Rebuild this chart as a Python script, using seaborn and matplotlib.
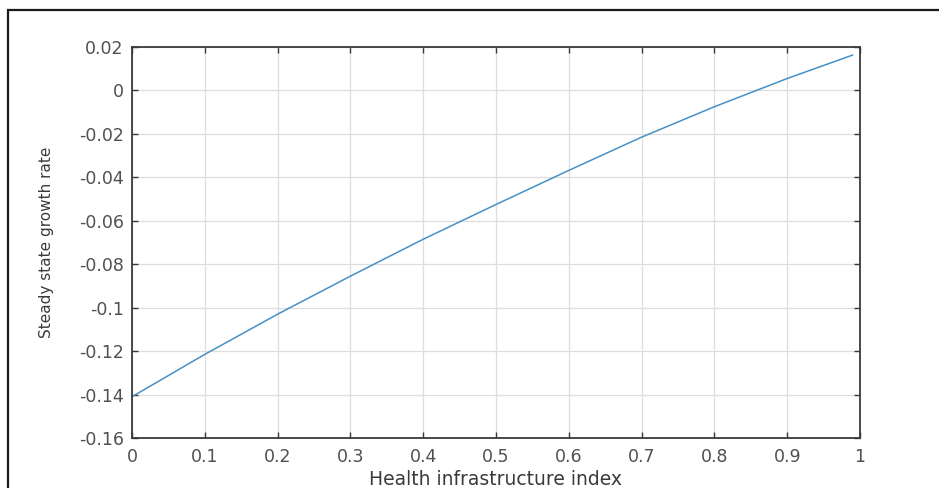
import numpy as np
import matplotlib
matplotlib.use("Agg")
import matplotlib.pyplot as plt
from matplotlib.patches import Rectangle
import seaborn as sns
import pandas as pd

# values
health_index = [0.0, 0.1, 0.2, 0.3, 0.4, 0.5, 0.6, 0.7, 0.8, 0.9, 0.99]
growth_rate = [-0.141, -0.1215, -0.103, -0.0855, -0.0685, -0.0525,
               -0.0368, -0.0215, -0.0075, 0.0055, 0.0163]

x_ticks = [0.0, 0.1, 0.2, 0.3, 0.4, 0.5, 0.6, 0.7, 0.8, 0.9, 1.0]
x_tick_labels = ["0", "0.1", "0.2", "0.3", "0.4", "0.5", "0.6", "0.7", "0.8", "0.9", "1"]
y_ticks = [0.02, 0.0, -0.02, -0.04, -0.06, -0.08, -0.1, -0.12, -0.14, -0.16]
y_tick_labels = ["0.02", "0", "-0.02", "-0.04", "-0.06", "-0.08", "-0.1", "-0.12", "-0.14", "-0.16"]

df = pd.DataFrame({"x": health_index, "y": growth_rate})

sns.set_theme(style="white")
plt.rcParams["font.family"] = ["DejaVu Sans"]

fig = plt.figure(figsize=(9.39, 4.88), dpi=100)
ax = fig.add_axes([0.1406, 0.1025, 0.7753, 0.8012])

sns.lineplot(data=df, x="x", y="y", ax=ax, color="#4790c6", lw=1.1)

ax.set_xlim(0, 1)
ax.set_ylim(-0.16, 0.02)
ax.set_xticks(x_ticks)
ax.set_xticklabels(x_tick_labels)
ax.set_yticks(y_ticks)
ax.set_yticklabels(y_tick_labels)

ax.grid(True, color="#dedede", lw=0.9)
ax.set_axisbelow(True)
for sp in ax.spines.values():
    sp.set_visible(True)
    sp.set_color("#3a3a3a")
    sp.set_linewidth(1.3)

ax.tick_params(axis="both", which="both", direction="in", length=4, width=1,
               color="#3a3a3a", labelcolor="#505050", labelsize=12.5,
               top=True, right=True, bottom=True, left=True)
ax.tick_params(axis="x", pad=7)
ax.tick_params(axis="y", pad=6)

ax.set_xlabel("Health infrastructure index", fontsize=13.5, color="#3a3a3a")
ax.xaxis.set_label_coords(0.499, -0.107)
ax.xaxis.label.set_va("center")
ax.set_ylabel("Steady state growth rate", fontsize=11, color="#3a3a3a")
ax.yaxis.set_label_coords(-0.117, 0.5)
ax.yaxis.label.set_va("center")
ax.yaxis.label.set_ha("center")

# outer black frame, clipped at right and bottom like the reference
frame = Rectangle((0.0085, -0.2), 1.2, 0.9795 + 0.2, transform=fig.transFigure,
                  fill=False, edgecolor="#1a1a1a", lw=1.6, clip_on=False)
fig.add_artist(frame)

fig.savefig("out.png", dpi=100)
plt.close(fig)
